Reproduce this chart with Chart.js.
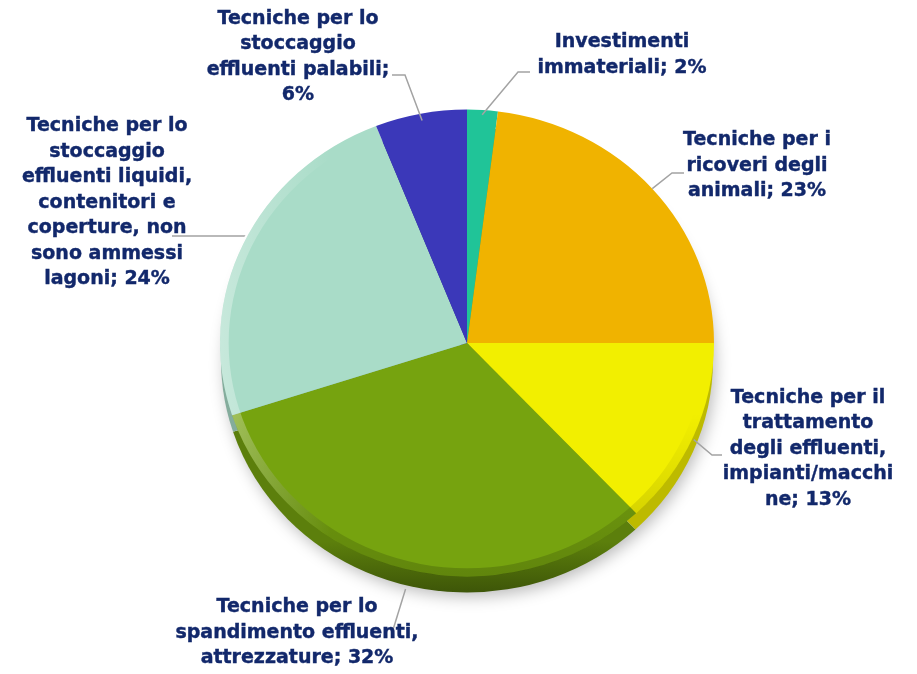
<!DOCTYPE html>
<html>
<head>
<meta charset="utf-8">
<script src="https://cdn.jsdelivr.net/npm/chart.js@4.4.1/dist/chart.umd.min.js"></script>
<style>
  html, body { margin: 0; padding: 0; background: #ffffff; }
  #wrap { width: 917px; height: 674px; }
</style>
</head>
<body>
<div id="wrap"><canvas id="torta" width="917" height="674"></canvas></div>
<script>
// dati del grafico (in senso orario dalle ore 12)
const categorie = [
    'Investimenti immateriali',
    'Tecniche per i ricoveri degli animali',
    'Tecniche per il trattamento degli effluenti, impianti/macchine',
    'Tecniche per lo spandimento effluenti, attrezzature',
    'Tecniche per lo stoccaggio effluenti liquidi, contenitori e coperture, non sono ammessi lagoni',
    'Tecniche per lo stoccaggio effluenti palabili'
];
const percentuali = [2, 23, 13, 32, 24, 6];
const colori = ['#20c498', '#f0b300', '#f2ef00', '#76a30f', '#a9dcc8', '#3b38b9'];

// righe delle etichette, {v} = valore
const righeEtichette = [
    ['Investimenti', 'immateriali; {v}%'],
    ['Tecniche per i', 'ricoveri degli', 'animali; {v}%'],
    ['Tecniche per il', 'trattamento', 'degli effluenti,', 'impianti/macchi', 'ne; {v}%'],
    ['Tecniche per lo', 'spandimento effluenti,', 'attrezzature; {v}%'],
    ['Tecniche per lo', 'stoccaggio', 'effluenti liquidi,', 'contenitori e', 'coperture, non', 'sono ammessi', 'lagoni; {v}%'],
    ['Tecniche per lo', 'stoccaggio', 'effluenti palabili;', '{v}%']
];

// posizione delle etichette rispetto al centro della torta (layout)
const posEtichette = [
    { cx: 155, cy: -288, rr: 0.98, dy: 0, gomito: [51, -271], fine: [63, -271] },
    { cx: 290, cy: -177, rr: 1.0, dy: 0, gomito: [205, -170], fine: [217, -170] },
    { cx: 341, cy: 106, rr: 1.0, dy: 4, gomito: [245, 112], fine: [255, 112] },
    { cx: -170, cy: 290, rr: 1.0, dy: 20, gomito: [-75, 290], fine: [-75, 290] },
    { cx: -360, cy: -140, rr: 1.0, dy: -7, gomito: [-223, -107], fine: [-295, -107] },
    { cx: -169, cy: -286, rr: 0.97, dy: 0, gomito: [-62, -268], fine: [-75, -268] }
];

const schiacciamento = 0.945;  // la torta appare un po' inclinata
const spessore = 18;           // altezza del bordo laterale

function scurisci(hex, f) {
    const n = parseInt(hex.slice(1), 16);
    const r = Math.round(((n >> 16) & 255) * f);
    const g = Math.round(((n >> 8) & 255) * f);
    const b = Math.round((n & 255) * f);
    return 'rgb(' + r + ',' + g + ',' + b + ')';
}

const etichettePlugin = {
    id: 'etichette',
    beforeDatasetsDraw(chart) {
        const archi = chart.getDatasetMeta(0).data;
        if (!archi.length) return;
        const ctx = chart.ctx;
        const cx = archi[0].x, cy = archi[0].y, r = archi[0].outerRadius;

        ctx.save();
        ctx.translate(cx, cy);
        ctx.scale(1, schiacciamento);
        ctx.translate(-cx, -cy);

        // ombra
        ctx.save();
        ctx.shadowColor = 'rgba(0,0,0,0.28)';
        ctx.shadowBlur = 16;
        ctx.shadowOffsetX = 3;
        ctx.shadowOffsetY = 5;
        ctx.fillStyle = '#ffffff';
        ctx.beginPath();
        ctx.arc(cx, cy + spessore, r - 2, 0, Math.PI * 2);
        ctx.fill();
        ctx.restore();

        // lato della torta
        archi.forEach((a, i) => {
            const g = ctx.createLinearGradient(0, cy + r * 0.85, 0, cy + r + spessore);
            g.addColorStop(0, scurisci(colori[i], 0.78));
            g.addColorStop(1, scurisci(colori[i], 0.52));
            ctx.fillStyle = g;
            ctx.beginPath();
            ctx.moveTo(cx, cy + spessore);
            ctx.arc(cx, cy + spessore, r - 1, a.startAngle, a.endAngle);
            ctx.closePath();
            ctx.fill();
        });
        // la faccia superiore resta nella stessa trasformazione
    },
    afterDatasetsDraw(chart) {
        const ctx = chart.ctx;
        const archi = chart.getDatasetMeta(0).data;
        const cx = archi[0].x, cy = archi[0].y, r = archi[0].outerRadius;

        // bordo smussato della faccia superiore
        ctx.save();
        ctx.beginPath();
        ctx.arc(cx, cy, r, 0, Math.PI * 2);
        ctx.arc(cx, cy, r * 0.965, 0, Math.PI * 2, true);
        ctx.clip();
        const luce = ctx.createLinearGradient(cx - r, 0, cx - r * 0.55, 0);
        luce.addColorStop(0, 'rgba(255,255,255,0.35)');
        luce.addColorStop(1, 'rgba(255,255,255,0)');
        ctx.fillStyle = luce;
        ctx.fillRect(cx - r, cy - r, 2 * r, 2 * r);
        const buio = ctx.createLinearGradient(0, cy + r * 0.3, 0, cy + r);
        buio.addColorStop(0, 'rgba(0,0,0,0)');
        buio.addColorStop(1, 'rgba(0,0,0,0.18)');
        ctx.fillStyle = buio;
        ctx.fillRect(cx - r, cy - r, 2 * r, 2 * r);
        ctx.restore();

        ctx.restore(); // fine schiacciamento

        ctx.save();
        ctx.font = 'bold 19px "DejaVu Sans", Verdana, sans-serif';
        ctx.textAlign = 'center';
        ctx.textBaseline = 'middle';
        archi.forEach((a, i) => {
            const p = posEtichette[i];
            const mid = (a.startAngle + a.endAngle) / 2;
            const ax = cx + Math.cos(mid) * r * p.rr;
            const ay = cy + Math.sin(mid) * r * p.rr * schiacciamento + p.dy;
            // linea guida
            ctx.strokeStyle = '#a3a3a3';
            ctx.lineWidth = 1.5;
            ctx.beginPath();
            ctx.moveTo(ax, ay);
            ctx.lineTo(cx + p.gomito[0], cy + p.gomito[1]);
            ctx.lineTo(cx + p.fine[0], cy + p.fine[1]);
            ctx.stroke();
            // testo
            const righe = righeEtichette[i].map(t => t.replace('{v}', percentuali[i]));
            const lh = 25.5;
            const y0 = cy + p.cy - (righe.length - 1) * lh / 2;
            ctx.fillStyle = '#12286b';
            ctx.strokeStyle = '#12286b';
            ctx.lineWidth = 0.4;
            righe.forEach((t, k) => {
                ctx.fillText(t, cx + p.cx, y0 + k * lh);
                ctx.strokeText(t, cx + p.cx, y0 + k * lh);
            });
        });
        ctx.restore();
    }
};

const ctx = document.getElementById('torta').getContext('2d');
const grafico = new Chart(ctx, {
    type: 'pie',
    data: {
        labels: categorie,
        datasets: [{
            data: percentuali,
            backgroundColor: colori,
            borderWidth: 0
        }]
    },
    options: {
        responsive: false,
        animation: false,
        layout: { padding: { left: 220, right: 203, top: 96, bottom: 84 } },
        plugins: {
            legend: { display: false },
            tooltip: { enabled: false }
        }
    },
    plugins: [etichettePlugin]
});
</script>
</body>
</html>
